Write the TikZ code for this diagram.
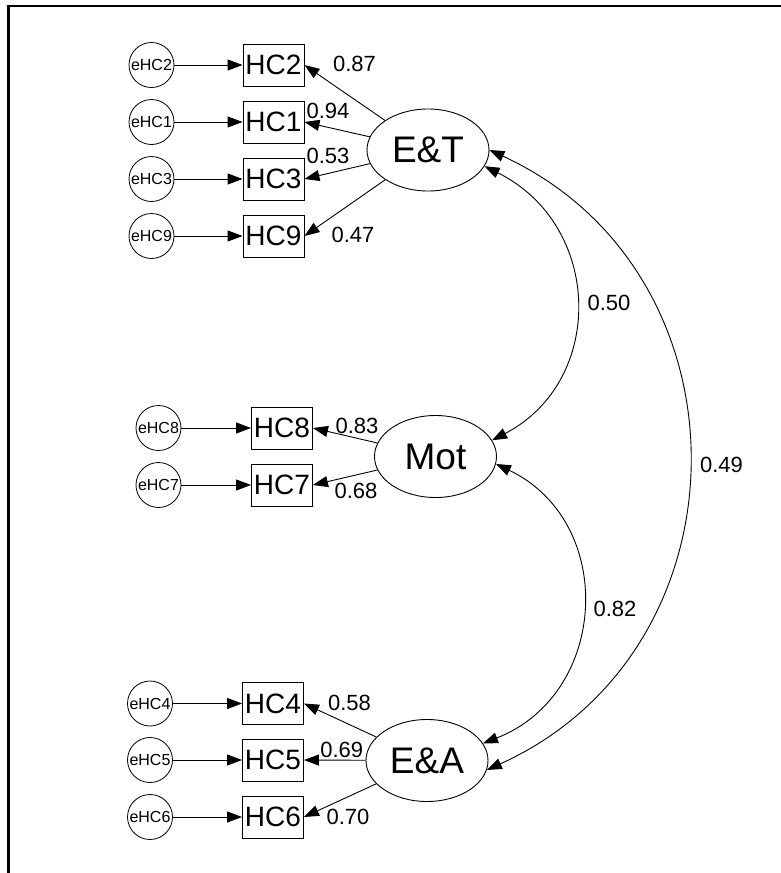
\documentclass[tikz,border=0pt]{standalone}
\usepackage{fontspec}
\setmainfont{Liberation Sans}
\usetikzlibrary{arrows.meta,shapes.geometric}
\begin{document}
\begin{tikzpicture}[x=1pt,y=-1pt,
  err/.style={draw,circle,minimum size=45pt,inner sep=0pt,font=\fontsize{16}{16}\selectfont,line width=0.8pt},
  obs/.style={draw,rectangle,minimum width=61pt,minimum height=42pt,inner sep=0pt,font=\fontsize{28}{28}\selectfont,line width=0.9pt},
  lat/.style={draw,ellipse,minimum width=122pt,minimum height=82pt,inner sep=0pt,font=\fontsize{37}{37}\selectfont,line width=0.9pt},
  lbl/.style={inner sep=0pt,font=\fontsize{22}{22}\selectfont},
  arr/.style={-{Triangle[length=15pt,width=11pt]},line width=0.9pt},
  cov/.style={{Triangle[length=15pt,width=11pt]}-{Triangle[length=15pt,width=11pt]},line width=0.9pt},
  frame/.style={line width=2.3pt}]
\useasboundingbox (0,0) rectangle (781,873);
% frame (top and left borders)
\coordinate (fbl) at (8.5,873);
\coordinate (ftl) at (8.5,6.3);
\coordinate (ftr) at (781,6.3);
\draw[frame] (fbl) -- (ftl) -- (ftr);

% latent variables
\node[lat] (ET) at (428,150) {E\&T};
\node[lat] (Mot) at (435.5,456.5) {Mot};
\node[lat] (EA) at (427,760.5) {E\&A};

% E&T block
\node[obs] (HC2) at (273.5,65) {HC2};
\node[obs] (HC1) at (273.5,122) {HC1};
\node[obs] (HC3) at (273.5,179) {HC3};
\node[obs] (HC9) at (273.5,236) {HC9};
\node[err] (e2) at (151.5,65) {eHC2};
\node[err] (e1) at (151.5,122) {eHC1};
\node[err] (e3) at (151.5,179) {eHC3};
\node[err] (e9) at (151.5,236) {eHC9};

% Mot block
\node[obs] (HC8) at (282,428) {HC8};
\node[obs] (HC7) at (282,485) {HC7};
\node[err] (e8) at (158.5,428) {eHC8};
\node[err] (e7) at (158.5,485) {eHC7};

% E&A block
\node[obs] (HC4) at (273,703.5) {HC4};
\node[obs] (HC5) at (273,760) {HC5};
\node[obs] (HC6) at (273,817) {HC6};
\node[err] (e4) at (150,703.5) {eHC4};
\node[err] (e5) at (150,760) {eHC5};
\node[err] (e6) at (150,817) {eHC6};

% error arrows
\foreach \e/\h in {e2/HC2,e1/HC1,e3/HC3,e9/HC9,e8/HC8,e7/HC7,e4/HC4,e5/HC5,e6/HC6}
  \draw[arr] (\e) -- (\h);

% loadings
\foreach \h in {HC2,HC1,HC3,HC9} \draw[arr] (ET) -- (\h.east);
\foreach \h in {HC8,HC7} \draw[arr] (Mot) -- (\h.east);
\foreach \h in {HC4,HC5,HC6} \draw[arr] (EA) -- (\h.east);

% loading labels
\node[lbl] (l87) at (354.5,64) {0.87};
\node[lbl] (l94) at (328,110.7) {0.94};
\node[lbl] (l53) at (328,155.8) {0.53};
\node[lbl] (l47) at (353,235) {0.47};
\node[lbl] (l83) at (357,426) {0.83};
\node[lbl] (l68) at (356,491) {0.68};
\node[lbl] (l58) at (349.5,703) {0.58};
\node[lbl] (l69) at (341.7,749.5) {0.69};
\node[lbl] (l70) at (348,817) {0.70};

% covariances
\draw[cov] (ET.-16) .. controls (603,225) and (606,381) .. (Mot.16);
\draw[cov] (ET.0) .. controls (755,272) and (754,649) .. (EA.-9);
\draw[cov] (Mot.-7) .. controls (617,522) and (609,694) .. (EA.17);

\node[lbl] (l50) at (609,302.5) {0.50};
\node[lbl] (l49) at (721.5,464.5) {0.49};
\node[lbl] (l82) at (615,609) {0.82};
\end{tikzpicture}
\end{document}
